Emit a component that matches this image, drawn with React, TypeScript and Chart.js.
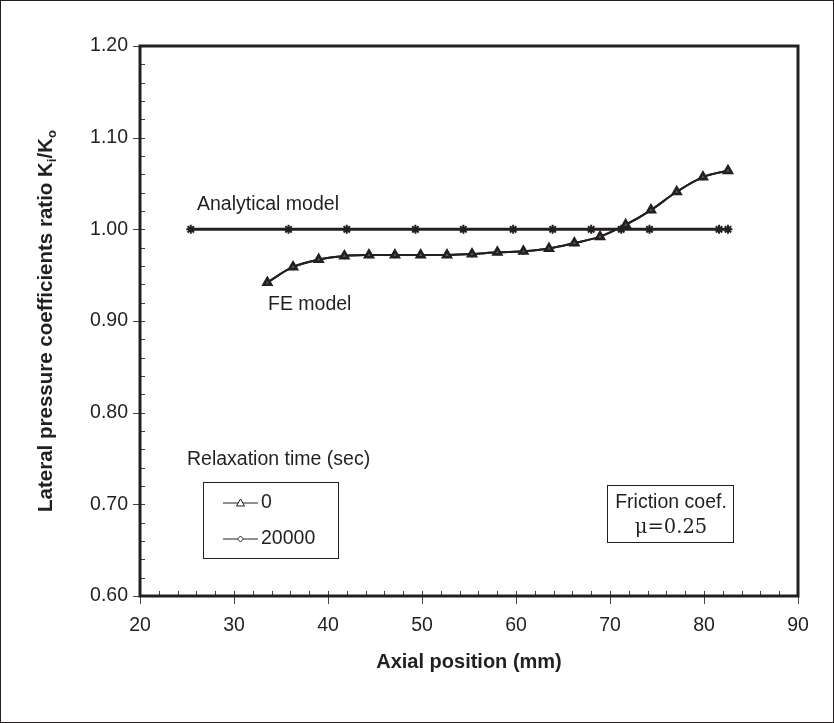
import React, { useEffect, useRef } from "react";
import { Chart, registerables } from "chart.js";
Chart.register(...registerables);

// ---- data ----
const feX = [33.55, 36.28, 39.01, 41.74, 44.36, 47.12, 49.86, 52.66, 55.32, 58.02, 60.79, 63.51, 66.21, 68.94, 71.67, 74.36, 77.1, 79.89, 82.55];
const feY0 = [0.942, 0.959, 0.967, 0.971, 0.972, 0.972, 0.972, 0.972, 0.973, 0.975, 0.976, 0.979, 0.985, 0.992, 1.005, 1.021, 1.041, 1.057, 1.064];
const feY20000 = [0.942, 0.959, 0.967, 0.971, 0.972, 0.972, 0.972, 0.972, 0.973, 0.975, 0.976, 0.979, 0.985, 0.992, 1.005, 1.021, 1.041, 1.057, 1.064];
const anaX = [25.4, 35.8, 42.0, 49.3, 54.4, 59.7, 63.9, 68.0, 71.2, 74.2, 81.6, 82.55];
const anaY = [1.0, 1.0, 1.0, 1.0, 1.0, 1.0, 1.0, 1.0, 1.0, 1.0, 1.0, 1.0];
const xTickLabels = [20, 30, 40, 50, 60, 70, 80, 90];
const yTickLabels = [0.6, 0.7, 0.8, 0.9, 1.0, 1.1, 1.2];
const seriesLabels = ["0", "20000"];
const legendTitle = "Relaxation time (sec)";
const xTitle = "Axial position (mm)";
const analyticalLabel = "Analytical model";
const feLabel = "FE model";
const frictionLines = ["Friction coef.", "\u03bc=0.25"];

const INK = "#231f20";
const FONT = "Liberation Sans, Arial, sans-serif";
const FS = 19.5;

const pts = (xs: number[], ys: number[]) => xs.map((x, i) => ({ x, y: ys[i] }));

const decorPlugin = {
  id: "decor",
  afterDraw(chart: any) {
    const ctx = chart.ctx as CanvasRenderingContext2D;
    const xs = chart.scales.x;
    const ys = chart.scales.y;
    const a = chart.chartArea;
    ctx.save();
    // outer frame
    ctx.strokeStyle = INK;
    ctx.lineWidth = 1;
    ctx.strokeRect(0.5, 0.5, chart.width - 1, chart.height - 1);

    // ticks
    ctx.lineWidth = 1;
    ctx.strokeStyle = "#444";
    for (let v = 20; v <= 90.001; v += 2) {
      const px = Math.round(xs.getPixelForValue(v)) + 0.5;
      const major = Math.abs(v / 10 - Math.round(v / 10)) < 1e-6;
      ctx.beginPath();
      ctx.moveTo(px, a.bottom - 5);
      ctx.lineTo(px, a.bottom + (major ? 8 : 0));
      ctx.stroke();
    }
    for (let k = 0; k <= 30; k++) {
      const v = 0.6 + k * 0.02;
      const py = Math.round(ys.getPixelForValue(v)) + 0.5;
      const major = k % 5 === 0;
      ctx.beginPath();
      ctx.moveTo(a.left - (major ? 7 : 0), py);
      ctx.lineTo(a.left + 5, py);
      ctx.stroke();
    }

    // plot frame
    ctx.strokeStyle = INK;
    ctx.lineWidth = 3;
    ctx.strokeRect(a.left, a.top, a.right - a.left, a.bottom - a.top);

    ctx.fillStyle = INK;
    // x title
    ctx.font = `bold 20px ${FONT}`;
    ctx.textAlign = "center";
    ctx.textBaseline = "middle";
    ctx.fillText(xTitle, (a.left + a.right) / 2, 662);

    // y title with subscripts
    ctx.save();
    ctx.translate(45, (a.top + a.bottom) / 2);
    ctx.rotate(-Math.PI / 2);
    const main = "Lateral pressure coefficients ratio K";
    const parts: [string, boolean][] = [[main, false], ["i", true], ["/K", false], ["o", true]];
    const bigF = `bold 20.5px ${FONT}`;
    const subF = `bold 13px ${FONT}`;
    let total = 0;
    for (const [t, sub] of parts) {
      ctx.font = sub ? subF : bigF;
      total += ctx.measureText(t).width;
    }
    let cx = -total / 2;
    ctx.textAlign = "left";
    ctx.textBaseline = "alphabetic";
    for (const [t, sub] of parts) {
      ctx.font = sub ? subF : bigF;
      ctx.fillText(t, cx, sub ? 11 : 7);
      cx += ctx.measureText(t).width;
    }
    ctx.restore();

    // annotations
    ctx.font = `${FS}px ${FONT}`;
    ctx.textAlign = "left";
    ctx.textBaseline = "middle";
    ctx.fillText(analyticalLabel, 197, 205);
    ctx.fillText(feLabel, 268, 305);

    // legend
    ctx.fillText(legendTitle, 187, 460);
    ctx.lineWidth = 1;
    ctx.strokeStyle = INK;
    ctx.strokeRect(203.5, 482.5, 135, 76);
    const rows = [503, 539];
    chart.data.datasets.slice(1).forEach((ds: any, i: number) => {
      const y = rows[i];
      ctx.beginPath();
      ctx.moveTo(223, y);
      ctx.lineTo(258, y);
      ctx.stroke();
      ctx.fillStyle = "#fff";
      ctx.beginPath();
      if (i === 0) {
        ctx.moveTo(240.5, y - 4);
        ctx.lineTo(244.5, y + 3);
        ctx.lineTo(236.5, y + 3);
      } else {
        ctx.moveTo(240.5, y - 3);
        ctx.lineTo(243.5, y);
        ctx.lineTo(240.5, y + 3);
        ctx.lineTo(237.5, y);
      }
      ctx.closePath();
      ctx.fill();
      ctx.stroke();
      ctx.fillStyle = INK;
      ctx.fillText(ds.label, 261, y);
    });

    // friction box
    ctx.strokeRect(607.5, 485.5, 126, 57);
    ctx.textAlign = "center";
    ctx.fillText(frictionLines[0], 671, 503);
    ctx.font = `${FS}px "DejaVu Serif", ${FONT}`;
    ctx.fillText(frictionLines[1], 671, 528);
    ctx.restore();
  },
};

export default function App() {
  const ref = useRef<HTMLCanvasElement | null>(null);
  useEffect(() => {
    if (!ref.current) return;
    const chart = new Chart(ref.current, {
      type: "scatter",
      data: {
        datasets: [
          {
            label: "Analytical",
            data: pts(anaX, anaY),
            showLine: true,
            borderColor: INK,
            borderWidth: 3,
            pointStyle: "star",
            pointRadius: 4.5,
            pointBorderWidth: 2,
            pointBorderColor: INK,
            pointBackgroundColor: INK,
          },
          {
            label: seriesLabels[0],
            data: pts(feX, feY0),
            showLine: true,
            tension: 0.35,
            borderColor: INK,
            borderWidth: 2,
            pointStyle: "triangle",
            pointRadius: 4.5,
            pointBorderWidth: 2.5,
            pointBorderColor: INK,
            pointBackgroundColor: "#555",
          },
          {
            label: seriesLabels[1],
            data: pts(feX, feY20000),
            showLine: true,
            tension: 0.35,
            borderColor: INK,
            borderWidth: 2,
            pointStyle: "rectRot",
            pointRadius: 2.5,
            pointBorderWidth: 1.5,
            pointBorderColor: INK,
            pointBackgroundColor: "#fff",
          },
        ],
      },
      options: {
        animation: false,
        responsive: false,
        maintainAspectRatio: false,
        layout: { padding: { left: 0, right: 36, top: 46, bottom: 0 } },
        plugins: { legend: { display: false }, tooltip: { enabled: false } },
        scales: {
          x: {
            type: "linear",
            min: xTickLabels[0],
            max: xTickLabels[xTickLabels.length - 1],
            afterBuildTicks: (s: any) => {
              s.ticks = xTickLabels.map((v) => ({ value: v }));
            },
            afterFit: (s: any) => {
              s.height = 127;
            },
            grid: { display: false, drawTicks: false },
            border: { display: false },
            ticks: {
              color: INK,
              font: { size: FS, family: FONT },
              padding: 18,
              maxRotation: 0,
              callback: (v: any) => String(v),
            },
          },
          y: {
            type: "linear",
            min: yTickLabels[0],
            max: yTickLabels[yTickLabels.length - 1],
            afterBuildTicks: (s: any) => {
              s.ticks = yTickLabels.map((v) => ({ value: v }));
            },
            afterFit: (s: any) => {
              s.width = 140;
            },
            grid: { display: false, drawTicks: false },
            border: { display: false },
            ticks: {
              color: INK,
              font: { size: FS, family: FONT },
              padding: 12,
              callback: (v: any) => Number(v).toFixed(2),
            },
          },
        },
      },
      plugins: [decorPlugin],
    });
    return () => chart.destroy();
  }, []);
  return (
    <div style={{ position: "fixed", left: 0, top: 0, width: 834, height: 723, background: "#fff" }}>
      <canvas ref={ref} width={834} height={723} style={{ display: "block" }} />
    </div>
  );
}
